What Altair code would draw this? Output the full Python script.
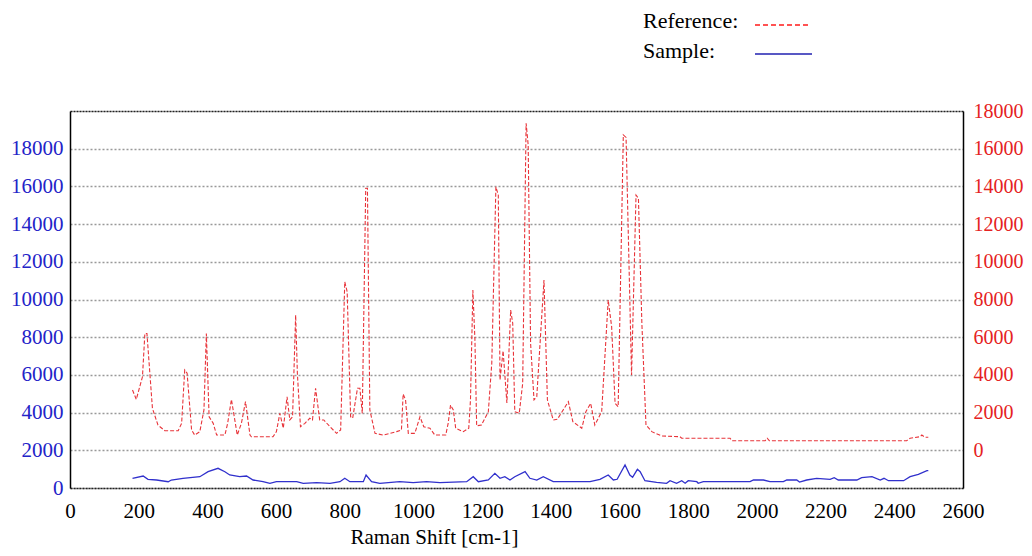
import altair as alt
import pandas as pd

# Reference spectrum (right axis units)
ref_x = [182, 193, 211, 218, 224, 240, 256, 276, 315, 325, 334, 341, 354, 363, 378, 390, 397, 405, 417, 427,
         451, 459, 470, 487, 499, 511, 524, 528, 591, 601, 611, 621, 632, 640, 648, 657, 662, 671, 684, 698,
         706, 715, 727, 739, 757, 776, 788, 800, 807, 817, 823, 837, 844, 851, 861, 866, 873, 888, 912, 951,
         965, 970, 977, 985, 1004, 1019, 1030, 1048, 1062, 1094, 1101, 1108, 1116, 1123, 1145, 1161, 1166, 1173, 1179, 1184,
         1198, 1218, 1228, 1240, 1247, 1252, 1261, 1272, 1283, 1289, 1295, 1308, 1318, 1328, 1334, 1341, 1351, 1359, 1380, 1390,
         1407, 1419, 1451, 1464, 1490, 1502, 1516, 1528, 1548, 1567, 1577, 1587, 1596, 1611, 1619, 1635, 1648, 1655, 1665, 1677,
         1694, 1723, 1776, 1781, 1922, 1927, 2024, 2030, 2036, 2436, 2446, 2475, 2480, 2490, 2499]
ref_y = [3200, 2700, 3900, 6200, 6200, 2230, 1340, 1040, 1040, 1430, 4260, 4085, 1080, 810, 990, 2140, 6200, 1780, 1430, 810,
         810, 1430, 2700, 810, 1430, 2580, 810, 720, 720, 990, 1960, 1170, 2840, 1610, 1780, 7180, 4085, 1250, 1430, 1700,
         1610, 3290, 1610, 1610, 1250, 900, 1080, 8940, 8410, 1780, 1700, 3290, 3290, 1960, 13900, 13900, 2140, 900, 810, 990,
         1080, 2990, 2670, 900, 900, 1780, 1250, 1170, 810, 810, 1430, 2400, 2140, 1170, 990, 1170, 2670, 8500, 5850, 1300,
         1340, 2050, 4615, 13980, 13540, 3730, 5280, 2510, 7440, 6740, 2050, 1960, 3550, 17350, 16200, 5680, 2670, 2840, 9030, 2670,
         1610, 1645, 2580, 1520, 1170, 2050, 2490, 1340, 2050, 7970, 6560, 2490, 2310, 16730, 16600, 4000, 13540, 13370, 6740, 1340,
         990, 760, 720, 640, 640, 510, 510, 640, 510, 510, 640, 720, 810, 690, 690]

# Sample spectrum (left axis units)
smp_x = [182, 213, 227, 252, 286, 295, 329, 378, 402, 431, 451, 465, 494, 514, 533, 562, 582, 601, 630, 660,
         679, 718, 757, 786, 800, 815, 854, 862, 878, 902, 960, 999, 1038, 1077, 1155, 1174, 1189, 1218, 1237, 1252,
         1266, 1281, 1295, 1325, 1339, 1359, 1378, 1407, 1514, 1543, 1567, 1582, 1593, 1616, 1630, 1638, 1652, 1660, 1674, 1708,
         1737, 1747, 1766, 1781, 1791, 1800, 1825, 1829, 1844, 1980, 1990, 2019, 2038, 2077, 2087, 2116, 2124, 2145, 2174, 2213,
         2225, 2237, 2291, 2305, 2335, 2359, 2370, 2383, 2427, 2446, 2470, 2495, 2499]
smp_y = [515, 637, 462, 424, 334, 424, 515, 600, 865, 1045, 865, 690, 600, 637, 424, 334, 250, 334, 334, 334,
         250, 280, 250, 334, 515, 334, 334, 690, 334, 250, 334, 280, 334, 280, 334, 600, 334, 424, 780, 515,
         600, 424, 600, 865, 515, 424, 600, 334, 334, 462, 690, 424, 462, 1220, 690, 568, 992, 865, 387, 302,
         250, 387, 250, 387, 250, 387, 334, 250, 334, 334, 424, 424, 334, 334, 424, 424, 318, 424, 515, 462,
         546, 424, 424, 546, 600, 424, 515, 387, 387, 600, 727, 918, 918]

x_ticks = list(range(0, 2601, 200))
left_ticks = list(range(0, 18001, 2000))
right_ticks = list(range(0, 18001, 2000))

ref_df = pd.DataFrame({"shift": ref_x, "intensity": ref_y})
smp_df = pd.DataFrame({"shift": smp_x, "intensity": smp_y})

FONT = "Liberation Serif"
RED = "#e8343a"
BLUE = "#3030cc"

xscale = alt.Scale(domain=[0, 2600], nice=False, zero=False)

ref_line = alt.Chart(ref_df).mark_line(
    color=RED, strokeWidth=1.1, strokeDash=[4, 2], interpolate="linear"
).encode(
    x=alt.X("shift:Q", scale=xscale,
            axis=alt.Axis(values=x_ticks, format="d", orient="bottom", grid=False,
                          labelFlush=False, labelOverlap=False,
                          labelColor="black", labelFont=FONT, labelFontSize=21,
                          labelPadding=12, tickSize=0, domainColor="#222",
                          domainDash=[2, 1], domainWidth=1.5,
                          title="Raman Shift [cm-1]", titleFont=FONT, titleFontSize=21,
                          titleFontWeight="normal", titleColor="black",
                          titleX=364, titleY=59, titleAlign="center",
                          titleBaseline="bottom")),
    y=alt.Y("intensity:Q", scale=alt.Scale(domain=[-2000, 18000], nice=False, zero=False),
            axis=alt.Axis(orient="right", values=right_ticks, format="d", grid=False,
                          labelFlush=False, labelOverlap=False,
                          labelColor="#e52222", labelFont=FONT, labelFontSize=20,
                          labelPadding=10, tickSize=0, domainColor="black",
                          domainWidth=1.5, title=None)),
)

smp_line = alt.Chart(smp_df).mark_line(
    color=BLUE, strokeWidth=1.3, interpolate="linear"
).encode(
    x=alt.X("shift:Q", scale=xscale,
            axis=alt.Axis(orient="top", labels=False, ticks=False, grid=False,
                          domainColor="#222", domainDash=[2, 1], domainWidth=1.5,
                          title=None)),
    y=alt.Y("intensity:Q", scale=alt.Scale(domain=[0, 20000], nice=False, zero=False),
            axis=alt.Axis(orient="left", values=left_ticks, format="d", grid=True,
                          labelFlush=False, labelOverlap=False,
                          gridColor="#999999", gridDash=[2, 2], gridWidth=1.5,
                          labelColor="#2323c8", labelFont=FONT, labelFontSize=21,
                          labelPadding=7, tickSize=0, domainColor="black",
                          domainWidth=1.5, title=None)),
)

# Legend (text + line samples above the plot)
leg_ref_txt = alt.Chart(pd.DataFrame({"t": ["Reference:"]})).mark_text(
    font=FONT, fontSize=22, color="black", align="left", baseline="alphabetic"
).encode(x=alt.value(573), y=alt.value(-83), text="t:N")
leg_smp_txt = alt.Chart(pd.DataFrame({"t": ["Sample:"]})).mark_text(
    font=FONT, fontSize=22, color="black", align="left", baseline="alphabetic"
).encode(x=alt.value(573), y=alt.value(-53), text="t:N")
leg_ref_line = alt.Chart(pd.DataFrame({"t": [0]})).mark_rule(
    color="#ff1a1a", strokeWidth=1.6, strokeDash=[5, 3]
).encode(x=alt.value(685), x2=alt.value(740), y=alt.value(-86))
leg_smp_line = alt.Chart(pd.DataFrame({"t": [0]})).mark_rule(
    color="#2020b0", strokeWidth=1.6
).encode(x=alt.value(685), x2=alt.value(742), y=alt.value(-57))

chart = alt.layer(
    smp_line, ref_line, leg_ref_txt, leg_smp_txt, leg_ref_line, leg_smp_line
).resolve_scale(y="independent").resolve_axis(x="independent", y="independent").properties(
    width=893, height=377,
    autosize=alt.AutoSizeParams(type="none"),
    padding={"left": 62, "top": 103, "right": 61, "bottom": 60},
).configure_view(stroke=None).configure(background="white")

chart.save("out.html", embed_options={"renderer": "svg", "actions": False})
